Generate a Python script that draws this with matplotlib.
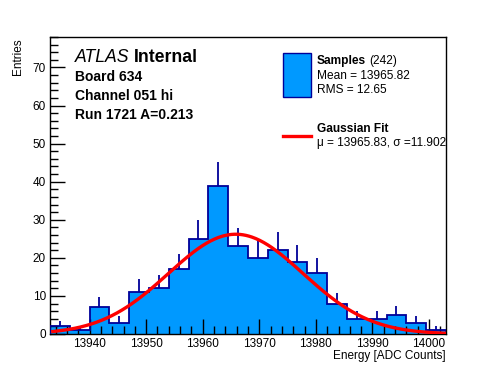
import numpy as np
import matplotlib
matplotlib.use("Agg")
import matplotlib.pyplot as plt
from matplotlib.ticker import MultipleLocator
from matplotlib.patches import Rectangle
from matplotlib.lines import Line2D

plt.rcParams['font.family'] = ['Liberation Sans', 'DejaVu Sans']

# ---- data ----
bin_low = 13933.0
bin_width = 3.5
counts = [2, 1, 7, 3, 11, 12, 17, 25, 39, 23, 20, 22, 19, 16, 8, 4, 4, 5, 3, 1]
fit_mu = 13965.83
fit_sigma = 11.902
fit_amp = 26.2
x_range = (13933.0, 14003.0)
y_range = (0, 78)

edges = bin_low + bin_width * np.arange(len(counts) + 1)
centers = 0.5 * (edges[:-1] + edges[1:])
counts_arr = np.array(counts, dtype=float)

fill_col = '#0099FF'
edge_col = '#000099'

fig = plt.figure(figsize=(4.96, 3.72), dpi=100)
ax = fig.add_axes([50/496, 1-334/372, 396/496, 297/372])

ax.stairs(counts_arr, edges, fill=True, color=fill_col, zorder=1)
m = counts_arr > 0
ax.vlines(centers[m], counts_arr[m], (counts_arr + np.sqrt(counts_arr))[m],
          color=edge_col, lw=1.3, zorder=2)
ax.stairs(counts_arr, edges, color=edge_col, lw=1.3, baseline=0, zorder=3)

xf = np.linspace(x_range[0] + 0.5, x_range[1], 400)
yf = fit_amp * np.exp(-0.5 * ((xf - fit_mu) / fit_sigma) ** 2)
ax.plot(xf, yf, color='#FF0000', lw=2.4, zorder=4)

ax.set_xlim(*x_range)
ax.set_ylim(*y_range)
ax.xaxis.set_major_locator(MultipleLocator(10))
ax.xaxis.set_minor_locator(MultipleLocator(2))
ax.yaxis.set_major_locator(MultipleLocator(10))
ax.yaxis.set_minor_locator(MultipleLocator(2))
ax.tick_params(which='both', direction='in', top=False, right=False,
               labelsize=8.5, width=1)
ax.tick_params(axis='x', which='major', length=11, pad=3)
ax.tick_params(axis='y', which='major', length=11, pad=3)
ax.tick_params(which='minor', length=5.5)
ax.ticklabel_format(useOffset=False)
for s in ax.spines.values():
    s.set_linewidth(1.0)

fig.text(18/496, 1-38/372, 'Entries', rotation=90, ha='center', va='top', fontsize=8.5)
fig.text(446/496, 1-356/372, 'Energy [ADC Counts]', ha='right', va='center', fontsize=8.5)

# ATLAS label
t = fig.text(75/496, 1-58/372, 'ATLAS', style='italic', fontsize=12.7, va='center')
fig.canvas.draw()
bb = t.get_window_extent()
fig.text(bb.x1/496 + 4/496, 1-58/372, 'Internal', weight='bold', fontsize=12.7, va='center')
fig.text(75/496, 1-77/372, 'Board 634', weight='bold', fontsize=10, va='center')
fig.text(75/496, 1-96/372, 'Channel 051 hi', weight='bold', fontsize=10, va='center')
fig.text(75/496, 1-115/372, 'Run 1721 A=0.213', weight='bold', fontsize=10, va='center')

# legend
fig.patches.append(Rectangle((283/496, 1-97/372), 28/496, 44/372, transform=fig.transFigure,
                             facecolor=fill_col, edgecolor=edge_col, lw=1.0))
fig.lines.append(Line2D([283/496, 311/496], [1-136/372, 1-136/372], transform=fig.transFigure,
                        color='#FF0000', lw=2.4))
t2 = fig.text(317/496, 1-61/372, 'Samples', weight='bold', fontsize=8.6, va='center')
fig.canvas.draw()
bb2 = t2.get_window_extent()
fig.text(bb2.x1/496 + 3/496, 1-61/372, '(242)', fontsize=8.6, va='center')
fig.text(317/496, 1-76/372, 'Mean = 13965.82', fontsize=8.6, va='center')
fig.text(317/496, 1-90/372, 'RMS = 12.65', fontsize=8.6, va='center')
fig.text(317/496, 1-129/372, 'Gaussian Fit', weight='bold', fontsize=8.6, va='center')
fig.text(317/496, 1-143/372, 'μ = 13965.83, σ =11.902', fontsize=8.6, va='center')

fig.savefig('out.png', dpi=100)
